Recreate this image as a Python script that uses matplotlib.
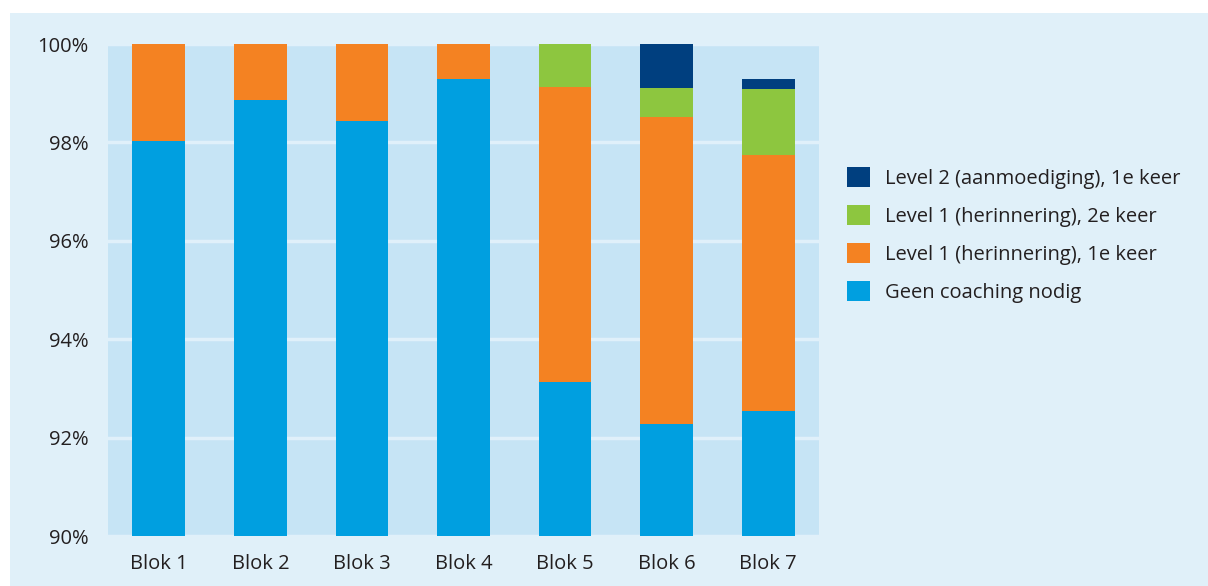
import matplotlib
matplotlib.use("Agg")
import matplotlib.pyplot as plt
from matplotlib.patches import Patch, Rectangle
import numpy as np

# ── Data ──────────────────────────────────────────────────────────────
blokken = ["Blok 1", "Blok 2", "Blok 3", "Blok 4", "Blok 5", "Blok 6", "Blok 7"]
geen_coaching = [98.03, 98.87, 98.43, 99.29, 93.14, 92.28, 92.54]
level1_1e = [1.97, 1.13, 1.57, 0.71, 5.99, 6.24, 5.20]
level1_2e = [0.0, 0.0, 0.0, 0.0, 0.87, 0.59, 1.35]
level2_1e = [0.0, 0.0, 0.0, 0.0, 0.0, 0.89, 0.20]

series = [
    ("Geen coaching nodig", geen_coaching, "#009fe0"),
    ("Level 1 (herinnering), 1e keer", level1_1e, "#f48222"),
    ("Level 1 (herinnering), 2e keer", level1_2e, "#8dc63f"),
    ("Level 2 (aanmoediging), 1e keer", level2_1e, "#003f7f"),
]

plt.rcParams["font.family"] = ["Open Sans", "DejaVu Sans"]

fig = plt.figure(figsize=(12.08, 5.86), dpi=100)
fig.patch.set_facecolor("white")

# light blue panel behind everything
panel = Rectangle((10 / 1208, 0), 1, (586 - 13) / 586, transform=fig.transFigure,
                  facecolor="#e0f0f9", edgecolor="none", zorder=-10)
fig.add_artist(panel)

ax = fig.add_axes([108 / 1208, (586 - 536) / 586, (819 - 108) / 1208, (536 - 44) / 586])
ax.set_facecolor("#c6e4f5")

x = np.arange(len(blokken))
bottom = np.zeros(len(blokken))
for label, vals, color in series:
    vals = np.array(vals)
    ax.bar(x, vals, 0.52, bottom=bottom, color=color, label=label, zorder=3)
    bottom += vals

ax.set_ylim(90, 100)
ax.set_xlim(-0.5, len(blokken) - 0.5)
yticks = [90, 92, 94, 96, 98, 100]
ax.set_yticks(yticks)
ax.set_yticklabels([f"{v}%" for v in yticks])
ax.set_xticks(x)
ax.set_xticklabels(blokken)
ax.tick_params(length=0, labelsize=14.5, colors="#231f20")
ax.tick_params(axis="y", pad=14)
ax.tick_params(axis="x", pad=13)

ax.grid(axis="y", color="#e0f0fa", linewidth=2.5, zorder=1)
for s in ax.spines.values():
    s.set_visible(False)

handles = [Patch(facecolor=c, edgecolor="none") for _, _, c in series][::-1]
labels = [l for l, _, _ in series][::-1]
fig.legend(handles, labels, loc="upper left", bbox_to_anchor=(829 / 1208, 1 - 149 / 586),
           frameon=False, fontsize=14.5, handlelength=1.15, handleheight=1.15,
           handletextpad=0.75, labelspacing=0.8, labelcolor="#231f20")

fig.savefig("out.png", dpi=100, facecolor=fig.get_facecolor())
